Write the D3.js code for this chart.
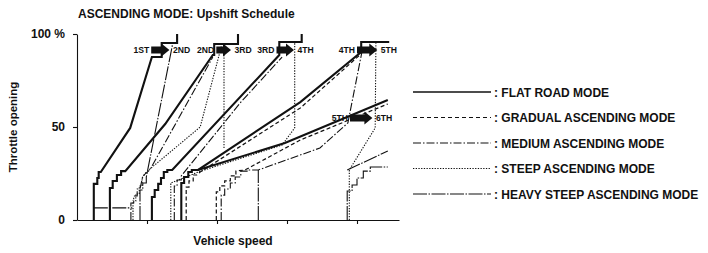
<!DOCTYPE html>
<html lang="en">
<head>
<meta charset="UTF-8">
<title>Ascending mode upshift schedule</title>
<style>
  body { margin: 0; background: #fff; }
  svg text { font-family: "Liberation Sans", Arial, sans-serif; font-weight: bold; fill: #111; }
</style>
<script src="https://d3js.org/d3.v7.min.js"></script>
</head>
<body>
<div id="chart"></div>
<script>
// vehicle speed (arbitrary units, ticks every 10) and throttle opening (%)
var speedTicks = [10, 20, 30, 40];
var throttleTicks = [0, 50, 100];

// shift lines, [speed, throttle]
var flat12 = [[2.4,0],[2.4,19.4],[2.9,19.4],[2.9,22.6],[3.1,22.6],[3.1,25.8],[3.4,25.8],[7.6,49.5],[10.7,87.6],[12.1,87.6],[12.1,95.2],[14.3,95.2],[14.3,100]];
var flat23 = [[4.7,0],[4.7,17.2],[5.1,17.2],[5.1,21],[5.7,21],[5.7,24.2],[6.3,24.2],[6.3,26.3],[6.9,26.3],[12.6,51.6],[19.4,88.7],[19.6,88.7],[19.6,94.6],[23,94.6],[23,100]];
var flat34 = [[10.7,0],[10.7,12.4],[11.1,12.4],[11.1,16.1],[11.6,16.1],[11.6,19.4],[12,19.4],[12,22.6],[12.4,22.6],[12.4,25.8],[12.9,25.8],[12.9,26.9],[13.6,26.9],[28.9,88.7],[28.9,95.7],[32.1,95.7],[32.1,100]];
var flat45 = [[14.9,0],[14.9,19.9],[15.3,19.9],[15.3,23.1],[15.9,23.1],[15.9,25.8],[16.4,25.8],[16.4,26.9],[17.3,26.9],[31.9,63.4],[40.6,90.3],[40.6,95.7],[44.6,95.7]];
var flat56 = [[17.3,26.9],[29.7,41.4],[44.4,64.5]];

var gradual45 = [[15.6,0],[15.6,17.7],[16,17.7],[16,21],[16.6,21],[16.6,24.2],[17.1,24.2],[17.6,25.8],[31.9,60.2],[40.4,88.7]];
var gradual56 = [[19.9,0],[19.9,15.1],[20.4,15.1],[20.4,18.3],[21.1,18.3],[21.1,21],[21.9,21],[21.9,23.7],[22.7,23.7],[22.7,26.3],[24,26.9],[31.9,43],[44.4,62.4]];

var medium23 = [[7.7,0],[7.7,9.1],[8.1,9.1],[8.1,12.9],[8.6,12.9],[8.6,16.7],[9,16.7],[9.4,23.7],[10.4,26.9],[19.4,87.6]];
var medium34 = [[13.9,0],[13.9,18.3],[14.3,18.3],[14.3,21.5],[14.9,21.5],[14.9,23.7],[23.3,62.9],[29.3,87.6]];
var medium45 = [[20.6,0],[20.6,13.4],[21.1,13.4],[21.1,16.7],[21.9,16.7],[21.9,19.9],[22.6,19.9],[22.6,23.1],[23.4,23.1],[23.4,26.3],[24.3,26.3],[24.3,26.9],[25.9,26.9],[34.7,38.7],[38.7,52.2],[40.7,90.3]];

var steep23 = [[8,0],[8,10.2],[8.4,10.2],[8.4,14],[8.9,14],[8.9,18.3],[9.3,18.3],[9.3,22.6],[9.9,25.8],[17.6,50],[20.6,93],[20.6,94.6]];
var steep23k = [[21,94.6],[21,38.7]];
var steep34 = [[13.4,0],[13.4,19.9],[17.3,25.8],[29.3,40.3],[31.1,49.5],[31.1,95.7]];
var steep56 = [[38.9,0],[38.9,26.9],[42.6,49.5],[42.7,95.7]];

var heavy12 = [[9,0],[9,16.1],[9.4,16.1],[9.4,19.9],[9.9,19.9],[9.9,23.1],[13.6,93.5],[13.6,95.2]];
var heavyBase = [[2.4,6.5],[7.9,6.5]];
var heavy45 = [[25.9,0],[25.9,26.9]];
var heavy56 = [[38.6,26.9],[44.4,37.1]];
var heavy56s = [[38.6,0],[38.6,15.6],[39.3,15.6],[39.3,18.8],[40,18.8],[40,22.6],[40.9,22.6],[40.9,26.3],[41.9,26.3],[41.9,28.5],[44.4,28.5]];

var modes = ["FLAT ROAD MODE", "GRADUAL ASCENDING MODE", "MEDIUM ASCENDING MODE", "STEEP ASCENDING MODE", "HEAVY STEEP ASCENDING MODE"];

// shift arrows: from gear, to gear, start speed, end speed, throttle
var arrowFrom = ["1ST", "2ND", "3RD", "4TH", "5TH"];
var arrowTo = ["2ND", "3RD", "4TH", "5TH", "6TH"];
var arrowS1 = [10.6, 19.9, 28.5, 40.0, 39.0];
var arrowS2 = [13.2, 22.0, 31.0, 42.9, 42.2];
var arrowT = [91.4, 91.4, 91.4, 91.4, 54.8];

var styles = [
  {w: 2.1, dash: null},
  {w: 1.2, dash: "4,2.5"},
  {w: 1.1, dash: "8,2,1.5,2"},
  {w: 1.1, dash: "1.3,1.4"},
  {w: 1.1, dash: "14,1.5,1.5,1.5"}
];

var lines = [
  [flat12,0],[flat23,0],[flat34,0],[flat45,0],[flat56,0],
  [gradual45,1],[gradual56,1],
  [medium23,2],[medium34,2],[medium45,2],
  [steep23,3],[steep23k,3],[steep34,3],[steep56,3],
  [heavy12,4],[heavyBase,4],[heavy45,4],[heavy56,4],[heavy56s,4]
];

var width = 708, height = 253;
var svg = d3.select("#chart").append("svg")
    .attr("width", width)
    .attr("height", height);

var x = d3.scaleLinear().domain([0, 46]).range([77, 399]);
var y = d3.scaleLinear().domain([0, 100]).range([220, 34]);

svg.append("text")
    .attr("x", 78)
    .attr("y", 18)
    .attr("font-size", "12px")
    .text("ASCENDING MODE: Upshift Schedule");

var xAxis = svg.append("g")
    .attr("transform", "translate(0,220)")
    .call(d3.axisBottom(x).tickValues(speedTicks).tickSize(4).tickSizeOuter(0).tickFormat(""));
var yAxis = svg.append("g")
    .attr("transform", "translate(77,0)")
    .call(d3.axisLeft(y).tickValues(throttleTicks).tickSize(4).tickSizeOuter(0).tickPadding(8)
      .tickFormat(function(d) { return d === 100 ? "100 %" : d; }));
svg.selectAll(".domain, .tick line").attr("stroke", "#111").attr("stroke-width", 1.1);
yAxis.selectAll("text")
    .attr("font-size", "12px")
    .attr("font-family", "Liberation Sans, Arial, sans-serif")
    .attr("font-weight", "bold")
    .attr("fill", "#111");

svg.append("text")
    .attr("transform", "translate(17,127) rotate(-90)")
    .attr("text-anchor", "middle")
    .attr("font-size", "11.5px")
    .text("Throttle opening");

svg.append("text")
    .attr("x", 233)
    .attr("y", 245)
    .attr("text-anchor", "middle")
    .attr("font-size", "12px")
    .text("Vehicle speed");

var line = d3.line()
    .x(function(d) { return x(d[0]); })
    .y(function(d) { return y(d[1]); });

svg.append("g").selectAll("path")
    .data(lines)
    .enter()
    .append("path")
    .attr("d", function(d) { return line(d[0]); })
    .attr("fill", "none")
    .attr("stroke", "#111")
    .attr("stroke-width", function(d) { return styles[d[1]].w; })
    .attr("stroke-dasharray", function(d) { return styles[d[1]].dash; });

// shift arrows with gear labels
var arrows = d3.range(arrowFrom.length).map(function(i) {
  return {from: arrowFrom[i], to: arrowTo[i], s1: arrowS1[i], s2: arrowS2[i], t: arrowT[i]};
});
var ag = svg.append("g").selectAll("g")
    .data(arrows)
    .enter()
    .append("g");
ag.append("path")
    .attr("d", function(d) {
      var x1 = x(d.s1), x2 = x(d.s2), yc = y(d.t), hx = x2 - 8;
      return "M" + x1 + "," + (yc - 3.5) + "L" + hx + "," + (yc - 3.5) + "L" + hx + "," + (yc - 6.5) +
        "L" + x2 + "," + yc + "L" + hx + "," + (yc + 6.5) + "L" + hx + "," + (yc + 3.5) +
        "L" + x1 + "," + (yc + 3.5) + "Z";
    })
    .attr("fill", "#111");
ag.append("text")
    .attr("x", function(d) { return x(d.s1) - 2; })
    .attr("y", function(d) { return y(d.t) + 3.2; })
    .attr("text-anchor", "end")
    .attr("font-size", "8.6px")
    .text(function(d) { return d.from; });
ag.append("text")
    .attr("x", function(d) { return x(d.s2) + 3.5; })
    .attr("y", function(d) { return y(d.t) + 3.2; })
    .attr("font-size", "8.6px")
    .text(function(d) { return d.to; });

// legend
var legend = svg.append("g").selectAll("g")
    .data(modes)
    .enter()
    .append("g")
    .attr("transform", function(d, i) { return "translate(413," + (92 + i * 25.5) + ")"; });
legend.append("line")
    .attr("x1", 0).attr("x2", 78)
    .attr("stroke", "#111")
    .attr("stroke-width", function(d, i) { return i === 0 ? 1.4 : 1.1; })
    .attr("stroke-dasharray", function(d, i) { return i === 1 ? "4,3" : styles[i].dash; });
legend.append("text")
    .attr("x", 81)
    .attr("y", 4.5)
    .attr("font-size", "12px")
    .text(function(d) { return ": " + d; });
</script>
</body>
</html>
